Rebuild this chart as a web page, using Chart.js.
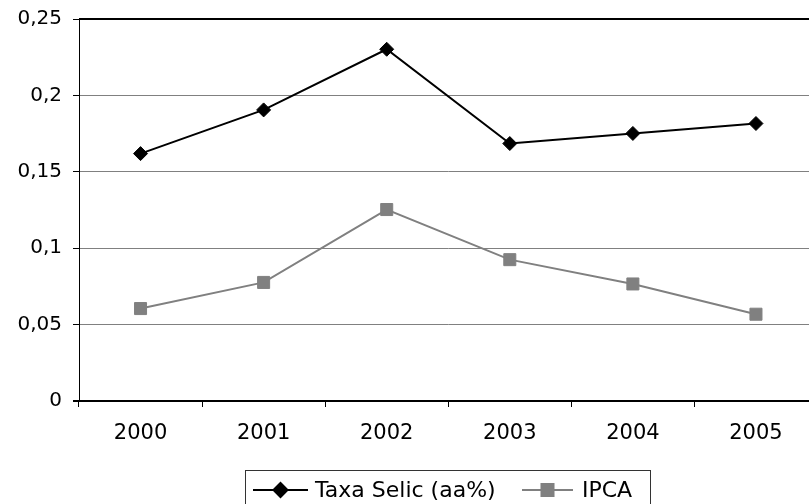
<!DOCTYPE html>
<html>
<head>
<meta charset="utf-8">
<script src="https://cdn.jsdelivr.net/npm/chart.js@4/dist/chart.umd.min.js"></script>
<style>
  html, body { margin: 0; padding: 0; background: #fff; }
  #wrap { width: 809px; height: 504px; position: relative; overflow: hidden; }
</style>
</head>
<body>
<div id="wrap"><canvas id="c" width="827" height="504"></canvas></div>
<script>
const categories = ['2000', '2001', '2002', '2003', '2004', '2005'];
const selicLabel = 'Taxa Selic (aa%)';
const selicValues = [0.1619, 0.1905, 0.2302, 0.1685, 0.1751, 0.1816];
const ipcaLabel = 'IPCA';
const ipcaValues = [0.0605, 0.0776, 0.1253, 0.0925, 0.0766, 0.0568];
const yMin = 0, yMax = 0.25, yStep = 0.05;

const FONT = 'DejaVu Sans';

const frame = {
  id: 'frame',
  afterDraw(chart) {
    const { ctx, chartArea: a } = chart;
    ctx.save();
    ctx.strokeStyle = '#000';
    ctx.lineWidth = 2;
    ctx.beginPath();
    ctx.moveTo(a.left, a.top);
    ctx.lineTo(a.right + 10, a.top);
    ctx.stroke();
    ctx.beginPath();
    ctx.moveTo(a.left - 6, a.bottom);
    ctx.lineTo(a.right + 10, a.bottom);
    ctx.stroke();
    ctx.lineWidth = 1;
    ctx.beginPath();
    ctx.moveTo(a.left - 6, a.top + 0.5);
    ctx.lineTo(a.left, a.top + 0.5);
    ctx.stroke();
    ctx.restore();
  }
};

const legendBox = {
  id: 'legendBox',
  afterDraw(chart) {
    const ctx = chart.ctx;
    const ds = chart.data.datasets;
    ctx.save();
    ctx.strokeStyle = '#333';
    ctx.lineWidth = 1;
    ctx.strokeRect(245.5, 470.5, 405, 50);
    const cy = 490;
    const items = [
      { x0: 253, x1: 308, tx: 315 },
      { x0: 522, x1: 573, tx: 582 }
    ];
    items.forEach((it, i) => {
      const d = ds[i];
      ctx.strokeStyle = d.borderColor;
      ctx.lineWidth = 2;
      ctx.beginPath();
      ctx.moveTo(it.x0, cy);
      ctx.lineTo(it.x1, cy);
      ctx.stroke();
      ctx.fillStyle = d.pointBackgroundColor;
      const mx = (it.x0 + it.x1) / 2;
      Chart.helpers.drawPoint(ctx, {
        pointStyle: d.pointStyle, radius: d.pointRadius, borderWidth: 1, rotation: 0
      }, mx, cy);
      ctx.fillStyle = '#000';
      ctx.font = '22px "' + FONT + '"';
      ctx.textBaseline = 'middle';
      ctx.textAlign = 'left';
      ctx.fillText(d.label, it.tx, cy + 1);
    });
    ctx.restore();
  }
};

Chart.defaults.color = '#000';
Chart.defaults.font.family = FONT;

new Chart(document.getElementById('c'), {
  type: 'line',
  data: {
    labels: categories,
    datasets: [
      {
        label: selicLabel,
        data: selicValues,
        borderColor: '#000',
        backgroundColor: '#000',
        pointBackgroundColor: '#000',
        pointBorderColor: '#000',
        borderWidth: 2,
        pointStyle: 'rectRot',
        pointRadius: 7,
        pointBorderWidth: 1,
        tension: 0
      },
      {
        label: ipcaLabel,
        data: ipcaValues,
        borderColor: '#808080',
        backgroundColor: '#808080',
        pointBackgroundColor: '#808080',
        pointBorderColor: '#808080',
        borderWidth: 2,
        pointStyle: 'rect',
        pointRadius: 8.5,
        pointBorderWidth: 1,
        tension: 0
      }
    ]
  },
  options: {
    responsive: false,
    animation: false,
    devicePixelRatio: 1,
    layout: { padding: { top: 19, bottom: 34, left: 0, right: 0 } },
    plugins: { legend: { display: false }, tooltip: { enabled: false } },
    scales: {
      x: {
        type: 'category',
        offset: true,
        afterFit(s) { s.height = 69; s.paddingLeft = 0; s.paddingRight = 0; },
        grid: { offset: true, drawOnChartArea: false, tickLength: 6, tickColor: '#000', lineWidth: 1 },
        border: { display: false },
        ticks: { padding: 14, font: { size: 21 }, color: '#000' }
      },
      y: {
        min: yMin,
        max: yMax,
        afterFit(s) { s.width = 79; s.paddingTop = 0; s.paddingBottom = 0; },
        grid: {
          color: (c) => (c.tick && (c.tick.value <= yMin + 1e-9 || c.tick.value >= yMax - 1e-9)) ? 'rgba(0,0,0,0)' : '#808080',
          tickColor: (c) => (c.tick && c.tick.value >= yMax - 1e-9) ? 'rgba(0,0,0,0)' : '#000',
          tickLength: 6,
          lineWidth: 1
        },
        border: { display: true, color: '#000', width: 1 },
        ticks: {
          stepSize: yStep,
          padding: 11,
          font: { size: 20 },
          color: '#000',
          callback: (v) => String(Math.round(v * 100) / 100).replace('.', ',')
        }
      }
    }
  },
  plugins: [frame, legendBox]
});
</script>
</body>
</html>
